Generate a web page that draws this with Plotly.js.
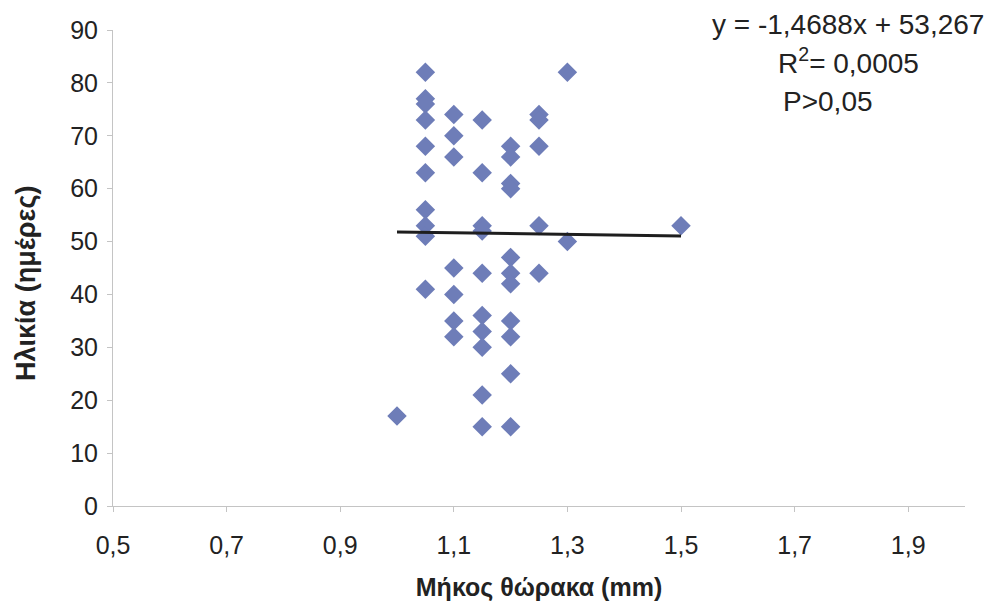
<!DOCTYPE html>
<html>
<head>
<meta charset="utf-8">
<script src="https://cdn.plot.ly/plotly-3.0.1.min.js"></script>
<style>html,body{margin:0;padding:0;background:#fff;}#chart{width:991px;height:610px;}</style>
</head>
<body>
<div id="chart"></div>
<script>
// Thorax length (mm) and age (days)
var thoraxLength = [
  1.0,
  1.05, 1.05, 1.05, 1.05, 1.05, 1.05, 1.05, 1.05, 1.05, 1.05,
  1.1, 1.1, 1.1, 1.1, 1.1, 1.1, 1.1,
  1.15, 1.15, 1.15, 1.15, 1.15, 1.15, 1.15, 1.15, 1.15, 1.15,
  1.2, 1.2, 1.2, 1.2, 1.2, 1.2, 1.2, 1.2, 1.2, 1.2, 1.2,
  1.25, 1.25, 1.25, 1.25, 1.25,
  1.3, 1.3,
  1.5
];
var ageDays = [
  17,
  82, 77, 76, 73, 68, 63, 56, 53, 51, 41,
  74, 70, 66, 45, 40, 35, 32,
  73, 63, 53, 52, 44, 36, 33, 30, 21, 15,
  68, 66, 61, 60, 47, 44, 42, 35, 32, 25, 15,
  74, 73, 68, 53, 44,
  82, 50,
  53
];
// Linear trend: y = -1.4688x + 53.267
var slope = -1.4688;
var intercept = 53.267;
var trendX = [Math.min.apply(null, thoraxLength), Math.max.apply(null, thoraxLength)];
var trendY = trendX.map(function (x) { return slope * x + intercept; });

var xTickVals = [0.5, 0.7, 0.9, 1.1, 1.3, 1.5, 1.7, 1.9];
var yTickVals = [0, 10, 20, 30, 40, 50, 60, 70, 80, 90];

var traces = [
  {
    type: 'scatter', mode: 'markers',
    x: thoraxLength, y: ageDays,
    marker: {symbol: 'diamond', size: 15, color: '#6e7db8', line: {width: 0}},
    hoverinfo: 'x+y'
  },
  {
    type: 'scatter', mode: 'lines',
    x: trendX, y: trendY,
    line: {color: '#1e1e1e', width: 3},
    hoverinfo: 'skip'
  }
];

var fam = 'Liberation Sans, Arial, sans-serif';
var tickFont = {family: fam, size: 25, color: '#222'};
var noteFont = {family: fam, size: 28, color: '#222'};

var layout = {
  width: 991, height: 610,
  margin: {l: 113, r: 26, t: 30, b: 104},
  paper_bgcolor: '#ffffff', plot_bgcolor: '#ffffff',
  showlegend: false,
  separators: ', ',
  xaxis: {
    range: [0.5, 2.0],
    tickvals: xTickVals,
    tickformat: '.1f',
    showgrid: false, zeroline: false,
    showline: true, linecolor: '#c4c4c4', linewidth: 1,
    ticks: 'outside', ticklen: 5, tickcolor: '#c4c4c4',
    tickfont: tickFont,
    ticklabelstandoff: 12,
    title: {text: 'Μήκος θώρακα (mm)', font: {family: fam, size: 25, color: '#222', weight: 'bold'}, standoff: 20}
  },
  yaxis: {
    range: [0, 90],
    tickvals: yTickVals,
    showgrid: false, zeroline: false,
    showline: true, linecolor: '#c4c4c4', linewidth: 1,
    ticks: 'outside', ticklen: 5, tickcolor: '#c4c4c4',
    tickfont: tickFont,
    ticklabelstandoff: 4
  },
  annotations: [
    {xref: 'paper', yref: 'paper', x: (26 - 113) / 852, y: (506 - 284) / 476, xanchor: 'center', yanchor: 'middle',
     textangle: -90, text: 'Ηλικία (ημέρες)', showarrow: false,
     font: {family: fam, size: 27, color: '#222', weight: 'bold'}},
    {xref: 'paper', yref: 'paper', x: (986 - 113) / 852, y: (506 - 24) / 476, xanchor: 'right', yanchor: 'middle',
     text: 'y = -1,4688x + 53,267', showarrow: false, font: noteFont},
    {xref: 'paper', yref: 'paper', x: (848 - 113) / 852, y: (506 - 61) / 476, xanchor: 'center', yanchor: 'middle',
     text: 'R<sup>2</sup>= 0,0005', showarrow: false, font: noteFont},
    {xref: 'paper', yref: 'paper', x: (828 - 113) / 852, y: (506 - 101) / 476, xanchor: 'center', yanchor: 'middle',
     text: 'P>0,05', showarrow: false, font: noteFont}
  ]
};

Plotly.newPlot('chart', traces, layout, {displayModeBar: false, staticPlot: true});
</script>
</body>
</html>
